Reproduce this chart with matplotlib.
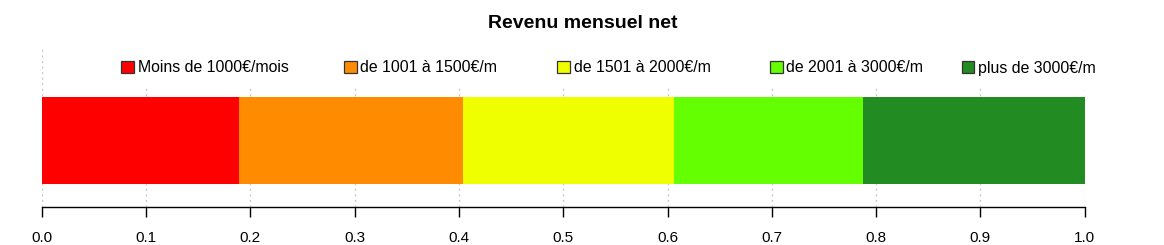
import matplotlib
matplotlib.use("Agg")
import matplotlib.pyplot as plt
from matplotlib.patches import Rectangle

categories = ["Moins de 1000€/mois", "de 1001 à 1500€/m", "de 1501 à 2000€/m",
              "de 2001 à 3000€/m", "plus de 3000€/m"]
shares = [0.189, 0.215, 0.202, 0.181, 0.213]
colors = ["#FF0000", "#FF8C00", "#F0FF00", "#64FF00", "#228B22"]
ticks = [0.0, 0.1, 0.2, 0.3, 0.4, 0.5, 0.6, 0.7, 0.8, 0.9, 1.0]
tick_labels = ["0.0", "0.1", "0.2", "0.3", "0.4", "0.5", "0.6", "0.7", "0.8", "0.9", "1.0"]
title = "Revenu mensuel net"

# layout (pixels)
legend_x = [121, 344, 557, 770, 962]

plt.rcParams['font.family'] = ['Liberation Sans', 'DejaVu Sans']

W, H = 1164, 245
fig = plt.figure(figsize=(W / 100, H / 100), dpi=100)
x0, x1 = 41.7, 1084.7
ytop, ybot = 48, 207
ax = fig.add_axes([x0 / W, (H - ybot) / H, (x1 - x0) / W, (ybot - ytop) / H])

ax.set_xlim(0, 1)
ax.set_ylim(0, 1)

left = 0
for c, s, col in zip(categories, shares, colors):
    ax.barh(0.4175, s, left=left, height=0.5475, color=col, edgecolor='none', zorder=2, label=c)
    left += s

for t in ticks:
    ax.axvline(t, color='#C8C8C8', linestyle=(0, (1.5, 2.5)), linewidth=1, zorder=1)

for sp in ['top', 'left', 'right']:
    ax.spines[sp].set_visible(False)
ax.spines['bottom'].set_linewidth(1)
ax.spines['bottom'].set_color('black')
ax.set_yticks([])
ax.set_xticks(ticks)
ax.set_xticklabels(tick_labels, fontsize=11)
ax.tick_params(axis='x', length=7, width=1, pad=10, direction='out')

# legend background (covers grid lines like the original)
fig.add_artist(Rectangle((100 / W, (H - 86) / H), 1010 / W, 44 / H, transform=fig.transFigure,
                         facecolor='white', edgecolor='none', zorder=3))
ly = (H - 67) / H
base = (H - 72.5) / H
sq = 12.5
for xp, lab, col in zip(legend_x, categories, colors):
    fig.add_artist(Rectangle((xp / W, ly - sq / 2 / H), sq / W, sq / H, transform=fig.transFigure,
                             facecolor=col, edgecolor='#333333', linewidth=0.9, zorder=4))
    fig.text((xp + sq + 4) / W, base, lab, ha='left', va='baseline', fontsize=11.4, zorder=5)

fig.text(583 / W, (H - 24) / H, title, ha='center', va='center', fontsize=14, fontweight='bold')

fig.savefig("out.png", dpi=100, facecolor='white')
